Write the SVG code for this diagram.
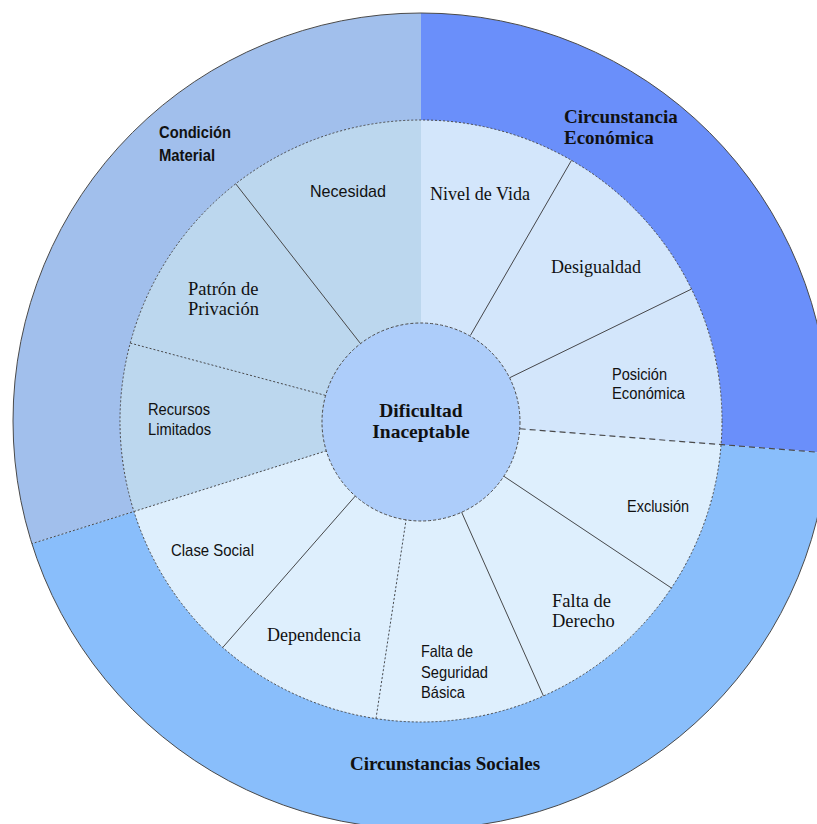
<svg xmlns="http://www.w3.org/2000/svg" width="817" height="824" viewBox="0 0 817 824">
<defs>
<style>
.sans{font-family:"Liberation Sans",Arial,sans-serif;fill:#111}
.serif{font-family:"Liberation Serif","Times New Roman",serif;fill:#111}
.b{font-weight:bold}
.solid{stroke:#4a4a4a;stroke-width:1;fill:none}
.dot{stroke:#4a4a4a;stroke-width:1;fill:none;stroke-dasharray:2 2}
.dash{stroke:#4a4a4a;stroke-width:1.2;fill:none;stroke-dasharray:6 4}
</style>
</defs>
<rect width="817" height="824" fill="#ffffff"/>
<!-- outer band groups -->
<g id="condicion-material">
<path d="M421,421 L31.88,543.69 A408,408 0 0 1 421,13 Z" fill="#A1BFEC"/>
<text class="sans b" font-size="17" x="159" y="138" textLength="72" lengthAdjust="spacingAndGlyphs">Condición</text>
<text class="sans b" font-size="17" x="159" y="161" textLength="56" lengthAdjust="spacingAndGlyphs">Material</text>
</g>
<g id="circunstancia-economica">
<path d="M421,421 L421,13 A408,408 0 0 1 827.74,453.01 Z" fill="#6A8FFA"/>
<text class="serif b" font-size="19" x="564" y="123">Circunstancia</text>
<text class="serif b" font-size="19" x="564" y="144">Económica</text>
</g>
<g id="circunstancias-sociales">
<path d="M421,421 L827.74,453.01 A408,408 0 0 1 31.88,543.69 Z" fill="#89BEFB"/>
<text class="serif b" font-size="19" x="445" y="770" text-anchor="middle">Circunstancias Sociales</text>
</g>
<!-- inner segments: material -->
<g id="necesidad">
<path d="M421,421 L235.69,183.81 A301,301 0 0 1 421,120 Z" fill="#BCD7EE"/>
<text class="sans" font-size="17" x="310" y="197" textLength="76" lengthAdjust="spacingAndGlyphs">Necesidad</text>
</g>
<g id="patron-de-privacion">
<path d="M421,421 L130.26,343.10 A301,301 0 0 1 235.69,183.81 Z" fill="#BCD7EE"/>
<text class="serif" font-size="18.5" x="188" y="295">Patrón de</text>
<text class="serif" font-size="18.5" x="188" y="315">Privación</text>
</g>
<g id="recursos-limitados">
<path d="M421,421 L133.93,511.51 A301,301 0 0 1 130.26,343.10 Z" fill="#BCD7EE"/>
<text class="sans" font-size="16.5" x="148" y="415" textLength="62" lengthAdjust="spacingAndGlyphs">Recursos</text>
<text class="sans" font-size="16.5" x="148" y="435" textLength="63" lengthAdjust="spacingAndGlyphs">Limitados</text>
</g>
<!-- inner segments: economica -->
<g id="nivel-de-vida">
<path d="M421,421 L421,120 A301,301 0 0 1 571.5,160.32 Z" fill="#D3E6FB"/>
<text class="serif" font-size="18.5" x="430" y="200" textLength="100" lengthAdjust="spacingAndGlyphs">Nivel de Vida</text>
</g>
<g id="desigualdad">
<path d="M421,421 L571.5,160.32 A301,301 0 0 1 691.54,289.05 Z" fill="#D3E6FB"/>
<text class="serif" font-size="18.5" x="551" y="273" textLength="90" lengthAdjust="spacingAndGlyphs">Desigualdad</text>
</g>
<g id="posicion-economica">
<path d="M421,421 L691.54,289.05 A301,301 0 0 1 721.07,444.62 Z" fill="#D3E6FB"/>
<text class="sans" font-size="16.5" x="612" y="380" textLength="55" lengthAdjust="spacingAndGlyphs">Posición</text>
<text class="sans" font-size="16.5" x="612" y="399" textLength="73" lengthAdjust="spacingAndGlyphs">Económica</text>
</g>
<!-- inner segments: sociales -->
<g id="exclusion">
<path d="M421,421 L721.07,444.62 A301,301 0 0 1 671.42,588.01 Z" fill="#DEEFFD"/>
<text class="sans" font-size="16.5" x="627" y="512" textLength="62" lengthAdjust="spacingAndGlyphs">Exclusión</text>
</g>
<g id="falta-de-derecho">
<path d="M421,421 L671.42,588.01 A301,301 0 0 1 543.43,695.98 Z" fill="#DEEFFD"/>
<text class="serif" font-size="18.5" x="552" y="607">Falta de</text>
<text class="serif" font-size="18.5" x="552" y="627">Derecho</text>
</g>
<g id="falta-de-seguridad-basica">
<path d="M421,421 L543.43,695.98 A301,301 0 0 1 375.99,718.62 Z" fill="#DEEFFD"/>
<text class="sans" font-size="16.5" x="421" y="657" textLength="52" lengthAdjust="spacingAndGlyphs">Falta de</text>
<text class="sans" font-size="16.5" x="421" y="678" textLength="67" lengthAdjust="spacingAndGlyphs">Seguridad</text>
<text class="sans" font-size="16.5" x="421" y="698" textLength="44" lengthAdjust="spacingAndGlyphs">Básica</text>
</g>
<g id="dependencia">
<path d="M421,421 L375.99,718.62 A301,301 0 0 1 222.73,647.48 Z" fill="#DEEFFD"/>
<text class="serif" font-size="18.5" x="267" y="641" textLength="94" lengthAdjust="spacingAndGlyphs">Dependencia</text>
</g>
<g id="clase-social">
<path d="M421,421 L222.73,647.48 A301,301 0 0 1 133.93,511.51 Z" fill="#DEEFFD"/>
<text class="sans" font-size="17" x="171" y="556" textLength="83" lengthAdjust="spacingAndGlyphs">Clase Social</text>
</g>
<!-- dividers and rings -->
<g id="connectors">
<circle class="solid" cx="421" cy="421" r="408"/>
<circle class="dot" cx="421" cy="421" r="301"/>
<line class="solid" x1="360.05" y1="342.99" x2="235.69" y2="183.81"/>
<line class="dot" x1="325.37" y1="395.38" x2="130.26" y2="343.10"/>
<line class="dot" x1="326.58" y1="450.77" x2="31.88" y2="543.69"/>
<line class="solid" x1="470.5" y1="335.26" x2="571.5" y2="160.32"/>
<line class="solid" x1="509.98" y1="377.60" x2="691.54" y2="289.05"/>
<line class="dash" x1="519.70" y1="428.77" x2="827.74" y2="453.01"/>
<line class="solid" x1="503.36" y1="475.93" x2="671.42" y2="588.01"/>
<line class="solid" x1="461.27" y1="511.44" x2="543.43" y2="695.98"/>
<line class="dot" x1="406.20" y1="518.89" x2="375.99" y2="718.62"/>
<line class="solid" x1="355.79" y1="495.49" x2="222.73" y2="647.48"/>
</g>
<g id="dificultad-inaceptable">
<circle cx="421" cy="422" r="99" fill="#ADCDFA" stroke="#4a4a4a" stroke-width="1" stroke-dasharray="3 2"/>
<text class="serif b" font-size="19.5" x="421" y="417" text-anchor="middle">Dificultad</text>
<text class="serif b" font-size="19.5" x="421" y="438" text-anchor="middle">Inaceptable</text>
</g>
</svg>
